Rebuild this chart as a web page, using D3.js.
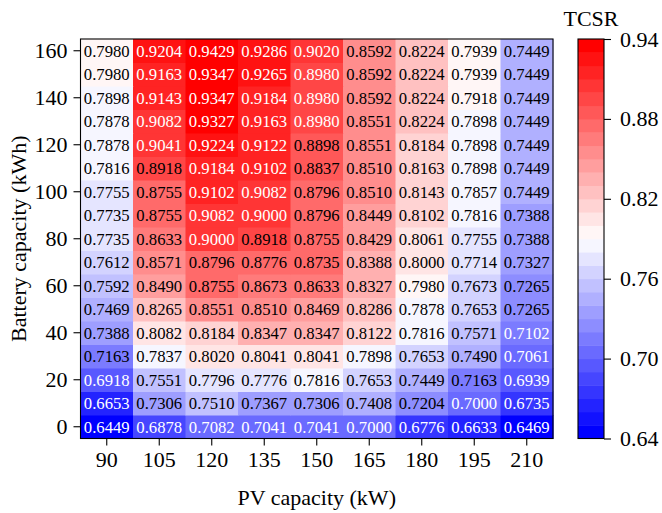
<!DOCTYPE html>
<html lang="en">

<head>
  <meta charset="UTF-8">
  <title>TCSR heatmap</title>
  <style>
    body {
      margin: 0;
      background: #fff;
    }

    svg {
      display: block;
    }

    svg text {
      font-family: "Liberation Serif", "Times New Roman", serif;
    }

    .frame {
      fill: none;
      stroke: #000;
      stroke-width: 1.1;
    }

    .axis text {
      font-size: 22px;
      fill: #000;
    }

    .axis line {
      stroke: #000;
      stroke-width: 1.1;
    }

    .cell-label {
      font-size: 16.7px;
    }
  </style>
</head>

<body>
  <div id="chart"></div>

  <script src="https://d3js.org/d3.v7.min.js"></script>

  <script>
    // data
    const pvCapacity = [90, 105, 120, 135, 150, 165, 180, 195, 210];
    const batteryCapacity = [0, 10, 20, 30, 40, 50, 60, 70, 80, 90, 100, 110, 120, 130, 140, 150, 160];

    // one row per battery capacity (0 -> 160), one value per PV capacity
    const tcsr = [
      [0.6449, 0.6878, 0.7082, 0.7041, 0.7041, 0.7000, 0.6776, 0.6633, 0.6469],
      [0.6653, 0.7306, 0.7510, 0.7367, 0.7306, 0.7408, 0.7204, 0.7000, 0.6735],
      [0.6918, 0.7551, 0.7796, 0.7776, 0.7816, 0.7653, 0.7449, 0.7163, 0.6939],
      [0.7163, 0.7837, 0.8020, 0.8041, 0.8041, 0.7898, 0.7653, 0.7490, 0.7061],
      [0.7388, 0.8082, 0.8184, 0.8347, 0.8347, 0.8122, 0.7816, 0.7571, 0.7102],
      [0.7469, 0.8265, 0.8551, 0.8510, 0.8469, 0.8286, 0.7878, 0.7653, 0.7265],
      [0.7592, 0.8490, 0.8755, 0.8673, 0.8633, 0.8327, 0.7980, 0.7673, 0.7265],
      [0.7612, 0.8571, 0.8796, 0.8776, 0.8735, 0.8388, 0.8000, 0.7714, 0.7327],
      [0.7735, 0.8633, 0.9000, 0.8918, 0.8755, 0.8429, 0.8061, 0.7755, 0.7388],
      [0.7735, 0.8755, 0.9082, 0.9000, 0.8796, 0.8449, 0.8102, 0.7816, 0.7388],
      [0.7755, 0.8755, 0.9102, 0.9082, 0.8796, 0.8510, 0.8143, 0.7857, 0.7449],
      [0.7816, 0.8918, 0.9184, 0.9102, 0.8837, 0.8510, 0.8163, 0.7898, 0.7449],
      [0.7878, 0.9041, 0.9224, 0.9122, 0.8898, 0.8551, 0.8184, 0.7898, 0.7449],
      [0.7878, 0.9082, 0.9327, 0.9163, 0.8980, 0.8551, 0.8224, 0.7898, 0.7449],
      [0.7898, 0.9143, 0.9347, 0.9184, 0.8980, 0.8592, 0.8224, 0.7918, 0.7449],
      [0.7980, 0.9163, 0.9347, 0.9265, 0.8980, 0.8592, 0.8224, 0.7939, 0.7449],
      [0.7980, 0.9204, 0.9429, 0.9286, 0.9020, 0.8592, 0.8224, 0.7939, 0.7449]
    ];

    const colorTicks = [0.64, 0.70, 0.76, 0.82, 0.88, 0.94];

    (function () {
      const width = 662;
      const height = 513;

      const plot = { left: 80.5, right: 553, top: 39, bottom: 438.5 };
      const bar = { left: 578, right: 604 };

      const svg = d3.select('#chart')
        .append('svg')
        .attr('width', width)
        .attr('height', height);

      // bwr colormap cut into 30 flat levels
      const nLevels = 30;
      const bwr = t => t < 0.5
        ? d3.rgb(510 * t, 510 * t, 255)
        : d3.rgb(255, 510 * (1 - t), 510 * (1 - t));
      const levels = d3.range(nLevels).map(i => bwr(i / (nLevels - 1)).formatHex());
      const color = d3.scaleQuantize()
        .domain([0.64, 0.94])
        .range(levels);

      const x = d3.scaleBand()
        .domain(pvCapacity)
        .range([plot.left, plot.right]);

      const y = d3.scaleBand()
        .domain(batteryCapacity.slice().reverse())
        .range([plot.top, plot.bottom]);

      const cells = [];
      tcsr.forEach((row, i) => {
        row.forEach((v, j) => {
          cells.push({ pv: pvCapacity[j], bat: batteryCapacity[i], v: v });
        });
      });

      // heatmap cells
      svg.append('g')
        .selectAll('rect')
        .data(cells)
        .enter()
        .append('rect')
        .attr('x', d => x(d.pv))
        .attr('y', d => y(d.bat))
        .attr('width', x.bandwidth() + 0.5)
        .attr('height', y.bandwidth() + 0.5)
        .attr('fill', d => color(d.v));

      svg.append('g')
        .selectAll('text')
        .data(cells)
        .enter()
        .append('text')
        .classed('cell-label', true)
        .attr('x', d => x(d.pv) + x.bandwidth() / 2)
        .attr('y', d => y(d.bat) + y.bandwidth() / 2)
        .attr('dy', '0.35em')
        .attr('text-anchor', 'middle')
        .attr('fill', d => (d.v < 0.713 || d.v > 0.895) ? '#fff' : '#000')
        .text(d => d.v.toFixed(4));

      // axes
      const gx = svg.append('g')
        .classed('axis', true)
        .attr('transform', `translate(0,${plot.bottom})`)
        .call(d3.axisBottom(x).tickSize(7).tickPadding(6));
      gx.select('.domain').remove();

      const gy = svg.append('g')
        .classed('axis', true)
        .attr('transform', `translate(${plot.left},0)`)
        .call(d3.axisLeft(y).tickValues(batteryCapacity.filter(b => b % 20 === 0)).tickSize(7).tickPadding(6));
      gy.select('.domain').remove();

      svg.append('rect')
        .classed('frame', true)
        .attr('x', plot.left)
        .attr('y', plot.top)
        .attr('width', plot.right - plot.left)
        .attr('height', plot.bottom - plot.top);

      svg.append('text')
        .attr('x', (plot.left + plot.right) / 2)
        .attr('y', 505)
        .attr('text-anchor', 'middle')
        .style('font-size', '22px')
        .text('PV capacity (kW)');

      svg.append('text')
        .attr('transform', `translate(26,${(plot.top + plot.bottom) / 2}) rotate(-90)`)
        .attr('text-anchor', 'middle')
        .style('font-size', '22px')
        .text('Battery capacity (kWh)');

      // colorbar
      const cy = d3.scaleLinear()
        .domain([0.64, 0.94])
        .range([plot.bottom, plot.top]);

      const step = 0.3 / nLevels;
      svg.append('g')
        .selectAll('rect')
        .data(levels)
        .enter()
        .append('rect')
        .attr('x', bar.left)
        .attr('y', (d, i) => cy(0.64 + (i + 1) * step))
        .attr('width', bar.right - bar.left)
        .attr('height', (d, i) => cy(0.64 + i * step) - cy(0.64 + (i + 1) * step) + 0.5)
        .attr('fill', d => d);

      svg.append('rect')
        .classed('frame', true)
        .attr('x', bar.left)
        .attr('y', plot.top)
        .attr('width', bar.right - bar.left)
        .attr('height', plot.bottom - plot.top);

      const gc = svg.append('g')
        .classed('axis', true)
        .attr('transform', `translate(${bar.right},0)`)
        .call(d3.axisRight(cy).tickValues(colorTicks).tickFormat(d3.format('.2f')).tickSize(7).tickPadding(9));
      gc.select('.domain').remove();

      svg.append('text')
        .attr('x', (bar.left + bar.right) / 2)
        .attr('y', 26)
        .attr('text-anchor', 'middle')
        .style('font-size', '22px')
        .text('TCSR');
    })();
  </script>
</body>

</html>
